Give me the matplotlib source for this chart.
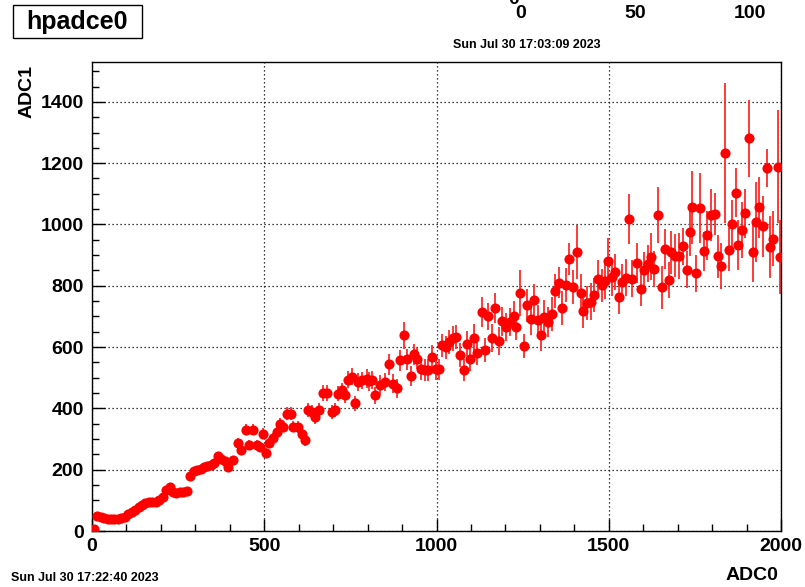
import numpy as np
import matplotlib
matplotlib.use("Agg")
import matplotlib.pyplot as plt
from matplotlib.patches import Rectangle
from matplotlib.ticker import MultipleLocator

FONT = "Liberation Sans"
plt.rcParams["font.family"] = [FONT, "DejaVu Sans"]

# ---------------- data (profile ADC1 vs ADC0) ----------------
x_low = [5, 15, 25, 35, 45, 55, 65, 75, 85, 95, 105, 115, 125, 135, 145, 155, 165, 175, 185, 195,
         205, 215, 225, 235, 245, 255, 265, 275, 285, 295, 305, 315, 325, 335, 345, 355, 365, 375, 385, 395]
y_low = [6, 48, 45, 42, 40, 38, 38, 40, 42, 45, 55, 62, 70, 78, 85, 92, 96, 95, 93, 100,
         110, 135, 145, 128, 124, 127, 128, 130, 178, 195, 200, 203, 208, 212, 215, 222, 245, 235, 228, 209]
e_low = [3, 4, 4, 4, 4, 4, 4, 4, 4, 4, 5, 5, 5, 5, 5, 6, 6, 6, 6, 6,
         7, 8, 8, 7, 7, 7, 7, 7, 9, 10, 10, 10, 10, 11, 11, 12, 13, 12, 12, 13]

x_mid = [410, 423, 432, 446, 456, 466, 480, 488, 495, 505, 515, 526, 536, 546, 555, 565, 578, 584, 597,
         609, 618, 628, 640, 647, 659, 671, 683, 696, 706, 715, 725, 733, 744, 754, 764, 773, 783, 797]
y_mid = [231, 288, 264, 331, 280, 331, 280, 275, 317, 255, 288, 302, 323, 350, 340, 383, 383, 340, 340,
         317, 296, 394, 388, 372, 394, 450, 450, 388, 394, 448, 459, 443, 494, 503, 416, 486, 492, 497]
e_mid = [14, 15, 15, 18, 16, 18, 16, 16, 18, 16, 17, 18, 18, 20, 18, 20, 20, 18, 20,
         20, 20, 22, 22, 22, 22, 25, 25, 22, 22, 25, 25, 25, 28, 28, 25, 28, 28, 30]

x_c = [805, 812, 822, 836, 851, 863, 875, 886, 894, 906, 913, 925, 935, 944, 955, 966, 976, 986, 999,
       1008, 1015, 1027, 1037, 1047, 1058, 1068, 1080, 1089, 1097, 1109, 1118, 1131, 1141, 1150, 1162,
       1170, 1182, 1191]
y_c = [488, 492, 443, 476, 487, 544, 481, 465, 557, 638, 560, 505, 576, 562, 527, 525, 525, 568, 527,
       527, 606, 599, 617, 628, 633, 574, 525, 611, 560, 630, 581, 714, 590, 700, 630,
       727, 619, 684]
e_c = [30, 30, 28, 32, 30, 35, 30, 30, 35, 45, 35, 32, 35, 35, 35, 35, 35, 38, 35,
       35, 38, 38, 40, 40, 40, 40, 35, 40, 38, 45, 40, 50, 40, 45, 45,
       48, 45, 48]

x_d = [1201, 1213, 1225, 1232, 1242, 1254, 1262, 1273, 1284, 1294, 1303, 1313, 1324, 1336, 1345, 1355,
       1363, 1375, 1386, 1397, 1407, 1419, 1426, 1436, 1449, 1458, 1470, 1479, 1489, 1499, 1510, 1519,
       1529, 1539, 1549, 1559, 1568]
y_d = [665, 682, 701, 667, 777, 603, 736, 690, 752, 687, 638, 698, 682, 707, 783, 810,
       728, 803, 888, 796, 910, 777, 718, 744, 748, 771, 823, 801, 817, 880, 828, 845,
       763, 812, 826, 1018, 823]
e_d = [45, 45, 50, 45, 76, 40, 55, 50, 55, 50, 50, 55, 50, 55, 55, 50,
       55, 55, 52, 55, 87, 60, 55, 55, 60, 55, 60, 55, 60, 75, 60, 60,
       55, 60, 60, 81, 60]

x_e = [1581, 1593, 1603, 1613, 1622, 1632, 1642, 1654, 1663, 1675, 1682, 1692, 1704, 1715, 1726, 1736,
       1743, 1753, 1765, 1776, 1786, 1796, 1808, 1816, 1825, 1837, 1848, 1857, 1868, 1876, 1886, 1895,
       1907, 1918, 1928, 1935, 1947, 1959, 1968, 1978, 1990, 1997]
y_e = [874, 788, 850, 872, 895, 855, 1031, 795, 920, 819, 909, 898, 896, 929, 852, 976,
       1056, 841, 1053, 912, 965, 1031, 1034, 896, 864, 1233, 918, 1001, 1103, 933, 982, 1037,
       1281, 911, 1007, 1056, 994, 1184, 926, 953, 1189, 893]
e_e = [65, 55, 60, 60, 76, 60, 90, 70, 65, 60, 70, 70, 75, 60, 60, 80,
       120, 60, 115, 65, 80, 85, 70, 70, 75, 228, 70, 80, 80, 80, 90, 80,
       125, 100, 130, 100, 100, 62, 100, 90, 185, 120]

x_tick_labels = ["0", "500", "1000", "1500", "2000"]
y_tick_labels = ["0", "200", "400", "600", "800", "1000", "1200", "1400"]

title_text = "hpadce0"
date_top = "Sun Jul 30 17:03:09 2023"
date_bottom = "Sun Jul 30 17:22:40 2023"
stray_labels = ["0", "50", "100"]

x = np.array(x_low + x_mid + x_c + x_d + x_e, dtype=float)
y = np.array(y_low + y_mid + y_c + y_d + y_e, dtype=float)
e = np.array(e_low + e_mid + e_c + e_d + e_e, dtype=float)

# ---------------- figure ----------------
W, H = 805, 587
fig = plt.figure(figsize=(W / 100, H / 100), dpi=100)
ax = fig.add_axes([92 / W, 1 - 531 / H, (781 - 92) / W, (531 - 62) / H])

ax.errorbar(x, y, yerr=e, fmt="none", ecolor="#ff2a2a", elinewidth=1.3, capsize=0, zorder=2)
ax.plot(x, y, "o", color="#ff0000", markersize=7.3, markeredgewidth=0, zorder=3)

ax.set_xlim(0, 2000)
ax.set_ylim(0, 1530)

ax.xaxis.set_minor_locator(MultipleLocator(100))
ax.yaxis.set_minor_locator(MultipleLocator(50))
ax.set_xticks(np.arange(0, 2001, 500))
ax.set_xticklabels(x_tick_labels)
ax.set_yticks(np.arange(0, 1401, 200))
ax.set_yticklabels(y_tick_labels)

ax.tick_params(axis="both", which="major", direction="in", length=9, width=1.0,
               labelsize=14, top=False, right=False)
ax.tick_params(axis="both", which="minor", direction="in", length=5, width=1.0,
               top=False, right=False)
ax.tick_params(axis="x", which="major", pad=5)
ax.tick_params(axis="y", which="major", pad=6)
for lab in ax.get_xticklabels() + ax.get_yticklabels():
    lab.set_fontweight("bold")

ax.grid(True, which="major", color="black", linestyle=(0, (1, 2.2)), linewidth=0.9)
ax.set_axisbelow(True)
for sp in ax.spines.values():
    sp.set_linewidth(1.0)
    sp.set_color("black")

# title box
fig.add_artist(Rectangle((13 / W, 1 - 38 / H), (142 - 13) / W, (38 - 5) / H,
                         transform=fig.transFigure, facecolor="white",
                         edgecolor="black", linewidth=1.0))
fig.text(77 / W, 1 - 21.5 / H, title_text, ha="center", va="center",
         fontsize=18, fontweight="bold")

# dates
fig.text(527 / W, 1 - 45 / H, date_top, ha="center", va="center", fontsize=9, fontweight="bold")
fig.text(11 / W, 1 - 578 / H, date_bottom, ha="left", va="center", fontsize=9, fontweight="bold")

# stray axis labels at the top right
for lab, px in zip(stray_labels, [521, 635, 750]):
    fig.text(px / W, 1 - 13 / H, lab, ha="center", va="center", fontsize=14, fontweight="bold")
fig.text(514 / W, 1 + 1 / H, "0", ha="center", va="center", fontsize=14, fontweight="bold")

# axis titles
fig.text(778 / W, 1 - 575 / H, "ADC0", ha="right", va="center", fontsize=14, fontweight="bold")
fig.text(27 / W, 1 - 92 / H, "ADC1", ha="center", va="center", rotation=90,
         fontsize=14, fontweight="bold")

fig.savefig("out.png", dpi=100)
